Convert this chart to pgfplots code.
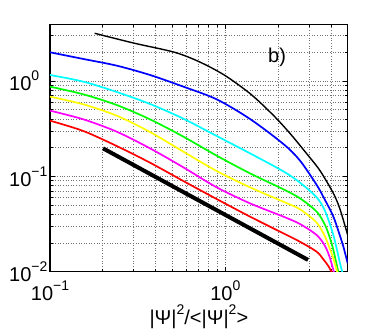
\documentclass[border=0pt]{standalone}
\usepackage{fontspec}
\setmainfont{Liberation Sans}
\usepackage{pgfplots}
\pgfplotsset{compat=1.18}
\definecolor{mblue}{RGB}{0,0,255}
\definecolor{mcyan}{RGB}{0,255,255}
\definecolor{mgreen}{RGB}{0,255,0}
\definecolor{myellow}{RGB}{255,255,0}
\definecolor{mmagenta}{RGB}{255,0,255}
\definecolor{mred}{RGB}{255,0,0}
\newcommand{\ex}[1]{\raisebox{0.5em}{\fontsize{14bp}{14bp}\selectfont #1}}

\begin{document}
\begin{tikzpicture}
\useasboundingbox (-50bp,-62.3bp) rectangle (333bp,271.7bp);
\begin{axis}[
    at={(0,0)}, anchor=south west,
    width=297.7bp, height=247.4bp, scale only axis,
    xmode=log, ymode=log,
    xmin=0.1, xmax=4.985, ymin=0.01, ymax=3.93,
    xtick={0.1,1}, xticklabels={10\ex{−1},10\ex{0}},
    ytick={0.01,0.1,1}, yticklabels={10\ex{−2},10\ex{−1},10\ex{0}},
    minor xtick={0.2,0.3,0.4,0.5,0.6,0.7,0.8,0.9,2,3,4},
    minor ytick={0.02,0.03,0.04,0.05,0.06,0.07,0.08,0.09,0.2,0.3,0.4,0.5,0.6,0.7,0.8,0.9,2,3},
    grid=both,
    grid style={dotted, black!55, line width=0.6bp},
    minor grid style={dotted, black!55, line width=0.6bp},
    tick align=inside,
    major tick length=5bp, minor tick length=3bp,
    tick style={black, line width=0.6bp},
    axis line style={black, line width=1.2bp},
    font=\fontsize{20bp}{20bp}\selectfont,
    xticklabel style={anchor=base, inner sep=0pt, yshift=-29bp},
    yticklabel style={anchor=base west, inner sep=0pt, xshift=-41bp, yshift=-10bp},
    xlabel={|Ψ|\ex{2}/<|Ψ|\ex{2}>},
    xlabel style={at={(axis description cs:0.5,0)}, anchor=base, inner sep=0pt, yshift=-52.8bp},
    every axis plot/.append style={smooth, tension=0.5},
    clip=true,
]
% thin black
\addplot[black, line width=1.4bp] coordinates {
(0.1798,3.162) (0.304,2.484) (0.5141,1.998) (0.714,1.582) (0.991,1.147) (1.407,0.719)
(1.911,0.4225) (2.378,0.2715) (2.961,0.1661) (3.467,0.1147) (4.130,0.0663) (4.508,0.0451) (4.985,0.0242)};
% blue
\addplot[mblue, line width=1.7bp] coordinates {
(0.1,1.998) (0.1549,1.701) (0.24,1.448) (0.3718,1.156) (0.5761,0.872) (0.8924,0.642)
(1.3826,0.3995) (2.142,0.2184) (2.666,0.146) (3.319,0.0811) (3.702,0.0564) (4.130,0.0378)
(4.508,0.02366) (4.710,0.0183) (4.985,0.01224)};
% cyan
\addplot[mcyan, line width=1.7bp] coordinates {
(0.1,1.156) (0.1549,0.984) (0.24,0.767) (0.3718,0.574) (0.5761,0.4026) (0.8924,0.2649)
(1.3826,0.1743) (2.142,0.1128) (2.666,0.0858) (3.319,0.0602) (3.702,0.0433) (4.130,0.0242)
(4.508,0.01224) (4.66,0.0097)};
% green
\addplot[mgreen, line width=1.7bp] coordinates {
(0.1,0.872) (0.1549,0.7246) (0.24,0.560) (0.3718,0.3962) (0.5761,0.2607) (0.8924,0.1647)
(1.3826,0.1075) (2.142,0.0731) (2.666,0.0588) (3.319,0.0426) (3.702,0.0309) (3.954,0.02237)
(4.130,0.01688) (4.42,0.0097)};
% yellow
\addplot[myellow, line width=1.7bp] coordinates {
(0.1,0.685) (0.1549,0.569) (0.24,0.4329) (0.3718,0.2917) (0.5761,0.1815) (0.8924,0.1137)
(1.3826,0.0767) (2.142,0.0542) (2.666,0.0451) (3.319,0.03266) (3.702,0.02329) (3.954,0.01715)
(4.130,0.0138) (4.36,0.0097)};
% magenta
\addplot[mmagenta, line width=1.7bp] coordinates {
(0.1,0.4885) (0.1549,0.3962) (0.24,0.2941) (0.3718,0.1966) (0.5761,0.1243) (0.8924,0.0767)
(1.3826,0.0521) (2.142,0.0378) (2.666,0.0316) (3.319,0.0242) (3.702,0.0186) (3.954,0.0138)
(4.17,0.0097)};
% red
\addplot[mred, line width=1.7bp] coordinates {
(0.1,0.3837) (0.1549,0.2988) (0.24,0.2080) (0.3718,0.1391) (0.5761,0.0893) (0.8924,0.0578)
(1.3826,0.0378) (2.142,0.02524) (2.666,0.0206) (3.319,0.0162) (3.622,0.01347) (3.868,0.01147)
(4.06,0.0097)};
% thick black reference line
\addplot[black, line width=4bp, sharp plot] coordinates {(0.2006,0.1966) (2.961,0.0133)};
\node[anchor=base west, inner sep=0pt] at (axis cs:1.75,1.55) {b)};
\end{axis}
\end{tikzpicture}
\end{document}
